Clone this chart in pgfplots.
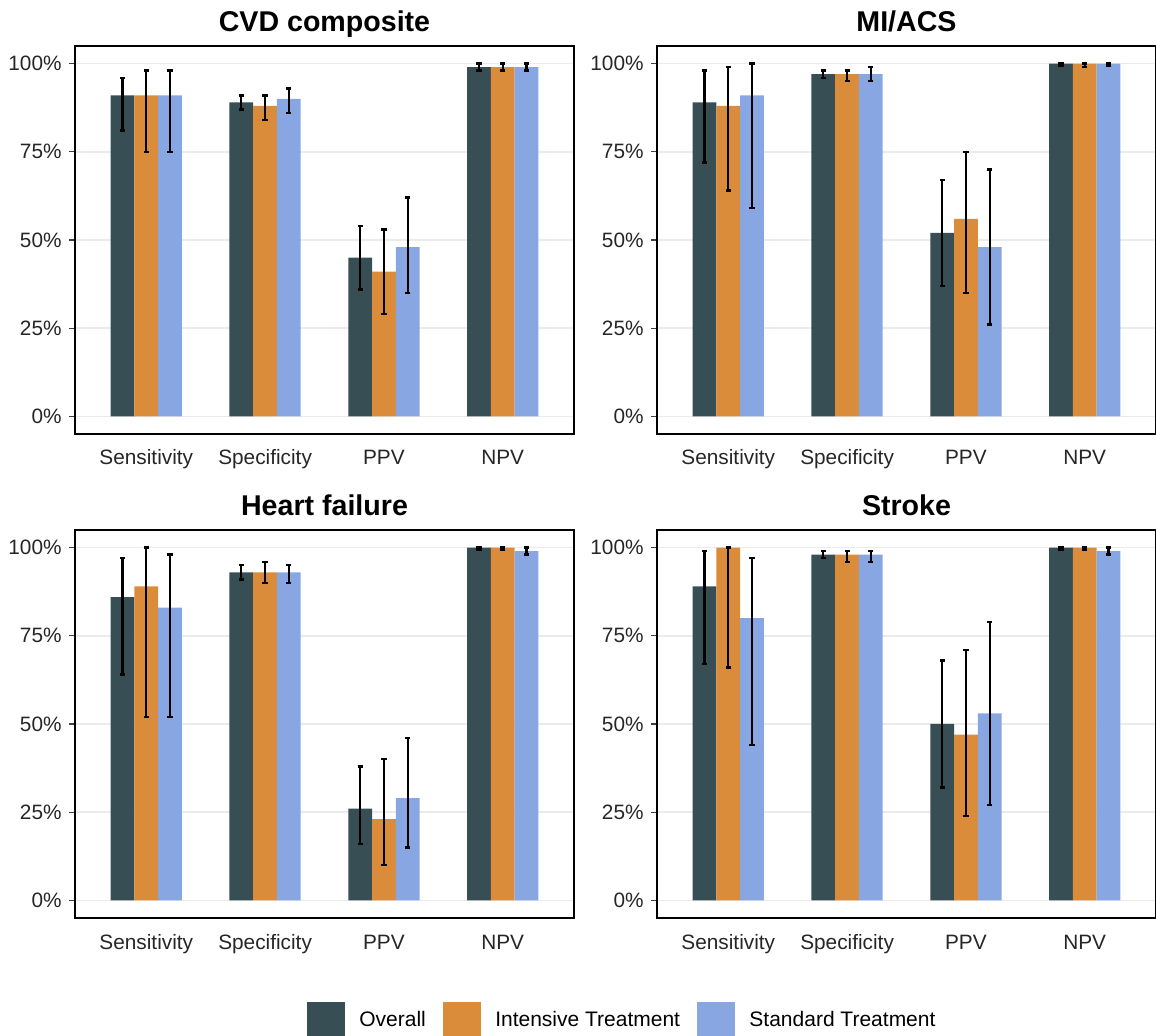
\documentclass[border=0pt]{standalone}
\usepackage{fontspec}
\setmainfont{Liberation Sans}
\usepackage{pgfplots}
\usepackage{pgfplotstable}
\pgfplotsset{compat=1.18}
\definecolor{cO}{HTML}{374E55}
\definecolor{cI}{HTML}{DB8C3A}
\definecolor{cS}{HTML}{88A7E2}
\definecolor{gridc}{HTML}{EBEBEB}

\pgfplotstableread{
cat o olo ohi i ilo ihi s slo shi
0 91 81 96 91 75 98 91 75 98
1 89 87 91 88 84 91 90 86 93
2 45 36 54 41 29 53 48 35 62
3 99 98 100 99 98 100 99 98 100
}\cvd
\pgfplotstableread{
cat o olo ohi i ilo ihi s slo shi
0 89 72 98 88 64 99 91 59 100
1 97 96 98 97 95 98 97 95 99
2 52 37 67 56 35 75 48 26 70
3 100 99.5 100 100 99 100 100 99.5 100
}\mi
\pgfplotstableread{
cat o olo ohi i ilo ihi s slo shi
0 86 64 97 89 52 100 83 52 98
1 93 91 95 93 90 96 93 90 95
2 26 16 38 23 10 40 29 15 46
3 100 99.5 100 100 99.5 100 99 98 100
}\hf
\pgfplotstableread{
cat o olo ohi i ilo ihi s slo shi
0 89 67 99 100 66 100 80 44 97
1 98 97 99 98 96 99 98 96 99
2 50 32 68 47 24 71 53 27 79
3 100 99.5 100 100 99.5 100 99 98 100
}\stroke

\pgfplotsset{
  panel/.style={
    scale only axis, width=249.5pt, height=194pt,
    xmin=-0.6, xmax=3.6, ymin=-5, ymax=105,
    xtick={0,1,2,3}, xticklabels={Sensitivity,Specificity,PPV,NPV},
    ytick={0,25,50,75,100}, yticklabels={0\%,25\%,50\%,75\%,100\%},
    ymajorgrids, major grid style={gridc, line width=0.75pt},
    axis line style={black, line width=1pt},
    tick align=outside, ytick pos=left, xtick pos=bottom,
    major tick length=3pt,
    y tick style={black!75, line width=0.6pt},
    x tick style={draw=none},
    tick label style={font=\fontsize{10.4}{12}\selectfont, text=black!85},
    xticklabel style={anchor=base, inner sep=0pt, yshift=-12.5pt},
    yticklabel style={anchor=east, inner sep=0pt, xshift=-3.5pt},
    title style={font=\fontsize{14.3}{16}\selectfont\bfseries, anchor=base, at={(0.5,1)}, yshift=1pt},
  },
  ebar/.style={error bars/.cd, y dir=both, y explicit,
    error bar style={line width=1.1pt, black},
    error mark options={rotate=90, mark size=1.3pt, line width=1.2pt, black}},
}

\newcommand{\bars}[1]{%
  \addplot[ybar, bar width=0.2, bar shift=0pt, fill=cO, draw=none, ebar]
    table[x expr=\thisrow{cat}-0.2, y=o, y error plus expr=\thisrow{ohi}-\thisrow{o}, y error minus expr=\thisrow{o}-\thisrow{olo}] {#1};
  \addplot[ybar, bar width=0.2, bar shift=0pt, fill=cI, draw=none, ebar]
    table[x expr=\thisrow{cat}, y=i, y error plus expr=\thisrow{ihi}-\thisrow{i}, y error minus expr=\thisrow{i}-\thisrow{ilo}] {#1};
  \addplot[ybar, bar width=0.2, bar shift=0pt, fill=cS, draw=none, ebar]
    table[x expr=\thisrow{cat}+0.2, y=s, y error plus expr=\thisrow{shi}-\thisrow{s}, y error minus expr=\thisrow{s}-\thisrow{slo}] {#1};
}

\begin{document}
\begin{tikzpicture}
\useasboundingbox (0,0) rectangle (578pt,-518pt);

\begin{axis}[panel, at={(37.5pt,-23pt)}, anchor=north west, title={CVD composite}]
\bars{\cvd}
\end{axis}

\begin{axis}[panel, at={(328.5pt,-23pt)}, anchor=north west, title={MI/ACS}]
\bars{\mi}
\end{axis}

\begin{axis}[panel, at={(37.5pt,-265pt)}, anchor=north west, title={Heart failure},
  legend entries={Overall, Intensive Treatment, Standard Treatment},
  legend cell align=left,
  legend style={at={(0.464,-0.2649)}, anchor=west, draw=none, fill=none,
    legend columns=3, inner sep=0pt, font=\fontsize{10.5}{12}\selectfont,
    nodes={inner sep=0pt},
    /tikz/every odd column/.append style={column sep=7.3pt},
    /tikz/every even column/.append style={column sep=8.5pt}}]
\addlegendimage{legend image code/.code={\fill[cO] (0pt,-9.25pt) rectangle (18.5pt,9.25pt);}}
\addlegendimage{legend image code/.code={\fill[cI] (0pt,-9.25pt) rectangle (18.5pt,9.25pt);}}
\addlegendimage{legend image code/.code={\fill[cS] (0pt,-9.25pt) rectangle (18.5pt,9.25pt);}}
\bars{\hf}
\end{axis}

\begin{axis}[panel, at={(328.5pt,-265pt)}, anchor=north west, title={Stroke}]
\bars{\stroke}
\end{axis}
\end{tikzpicture}
\end{document}
